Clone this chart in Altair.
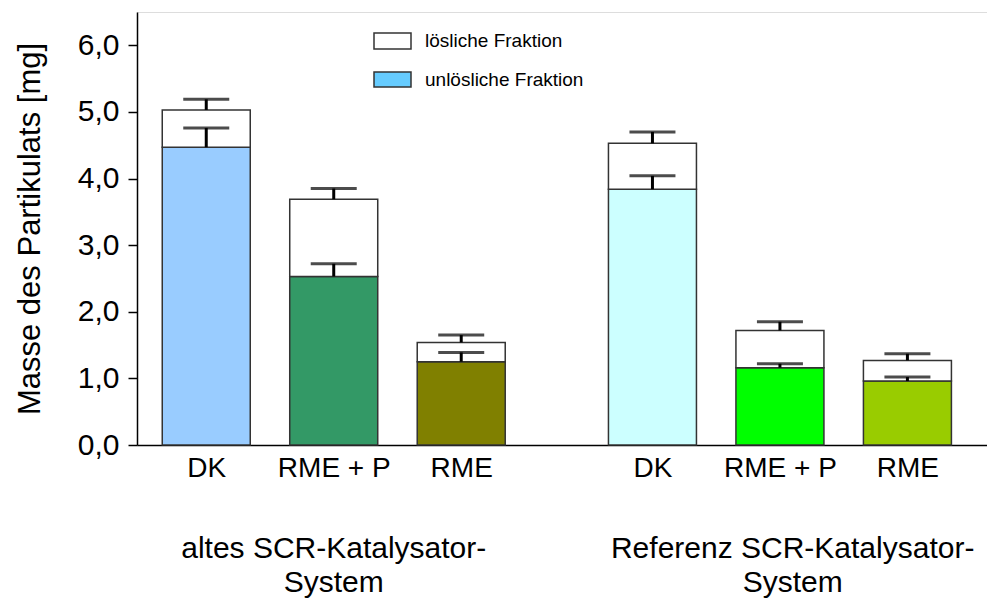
import json
import altair as alt
import pandas as pd

# ---- data ----
categories = ["DK", "RME + P", "RME", "DK", "RME + P", "RME"]
positions = [0, 1, 2, 3.5, 4.5, 5.5]
insoluble = [4.47, 2.53, 1.25, 3.84, 1.16, 0.96]
soluble = [0.56, 1.16, 0.29, 0.69, 0.56, 0.31]
err_insoluble = [0.29, 0.19, 0.14, 0.20, 0.06, 0.06]
err_total = [0.16, 0.16, 0.11, 0.17, 0.13, 0.10]
bar_colors = ["#99CCFF", "#339966", "#808000", "#CCFFFF", "#00FF00", "#99CC00"]

group_labels = [["altes SCR-Katalysator-", "System"], ["Referenz SCR-Katalysator-", "System"]]
group_pos = [1.0, 4.6]

legend_labels = ["lösliche Fraktion", "unlösliche Fraktion"]
legend_colors = ["#FFFFFF", "#66CCFF"]

y_ticks = [0, 1, 2, 3, 4, 5, 6]

FONT = "Liberation Sans"

df = pd.DataFrame({
    "pos": positions,
    "cat": categories,
    "ins": insoluble,
    "sol": soluble,
    "e_ins": err_insoluble,
    "e_tot": err_total,
    "color": bar_colors,
})
df["total"] = df["ins"] + df["sol"]
df["cap_ins"] = df["ins"] + df["e_ins"]
df["cap_tot"] = df["total"] + df["e_tot"]

gdf = pd.DataFrame({"pos": group_pos, "text": group_labels})

xscale = alt.Scale(domain=[-0.504, 6.085], nice=False, zero=False)
yscale = alt.Scale(domain=[0, 6.5], nice=False)

label_expr = (
    json.dumps(categories) + "[indexof(" + json.dumps(positions) + ", datum.value)]"
)

x_axis = alt.Axis(
    values=positions, labelExpr=label_expr, ticks=False, grid=False,
    domainColor="black", domainWidth=1.5, labelFont=FONT, labelFontSize=28,
    labelColor="black", labelPadding=9, labelOverlap=False, labelFlush=False,
    labelBound=False, title=None,
)
y_axis = alt.Axis(
    values=y_ticks, labelExpr="replace(format(datum.value, '.1f'), '.', ',')",
    grid=False, domainColor="black", domainWidth=1.5, tickColor="black",
    tickWidth=1.5, tickSize=9, labelFont=FONT, labelFontSize=30,
    labelColor="black", labelPadding=9, title="Masse des Partikulats [mg]",
    titleFont=FONT, titleFontSize=31, titleFontWeight="normal",
    titleColor="black", titlePadding=31,
)

base = alt.Chart(df)

bars_ins = base.mark_bar(size=88, stroke="#333333", strokeWidth=1.5).encode(
    x=alt.X("pos:Q", scale=xscale, axis=x_axis),
    y=alt.Y("ins:Q", scale=yscale, axis=y_axis),
    y2=alt.Y2(datum=0),
    fill=alt.Fill("color:N", scale=None),
)
bars_sol = base.mark_bar(size=88, stroke="#333333", strokeWidth=1.5, fill="white").encode(
    x="pos:Q",
    y="ins:Q",
    y2="total:Q",
)
err_ins_rule = base.mark_rule(color="black", strokeWidth=3).encode(
    x="pos:Q", y="ins:Q", y2="cap_ins:Q"
)
err_ins_cap = base.mark_tick(color="black", orient="horizontal", size=46, thickness=3).encode(
    x="pos:Q", y="cap_ins:Q"
)
err_tot_rule = base.mark_rule(color="black", strokeWidth=3).encode(
    x="pos:Q", y="total:Q", y2="cap_tot:Q"
)
err_tot_cap = base.mark_tick(color="black", orient="horizontal", size=46, thickness=3).encode(
    x="pos:Q", y="cap_tot:Q"
)

groups = alt.Chart(gdf).mark_text(
    font=FONT, fontSize=30, color="black", baseline="middle", align="center",
    lineHeight=34,
).encode(
    x="pos:Q",
    y=alt.value(537),
    text="text",
)

ldf = pd.DataFrame({"label": legend_labels, "color": legend_colors, "row": [0, 1]})
leg_rect0 = alt.Chart(ldf[ldf.row == 0]).mark_rect(stroke="#333333", strokeWidth=1.5).encode(
    x=alt.value(237), x2=alt.value(274), y=alt.value(21), y2=alt.value(37),
    fill=alt.Fill("color:N", scale=None),
)
leg_rect1 = alt.Chart(ldf[ldf.row == 1]).mark_rect(stroke="#333333", strokeWidth=1.5).encode(
    x=alt.value(237), x2=alt.value(274), y=alt.value(60), y2=alt.value(75),
    fill=alt.Fill("color:N", scale=None),
)
leg_text0 = alt.Chart(ldf[ldf.row == 0]).mark_text(
    font=FONT, fontSize=19, color="black", align="left", baseline="middle"
).encode(x=alt.value(288), y=alt.value(29), text="label:N")
leg_text1 = alt.Chart(ldf[ldf.row == 1]).mark_text(
    font=FONT, fontSize=19, color="black", align="left", baseline="middle"
).encode(x=alt.value(288), y=alt.value(67.5), text="label:N")

chart = alt.layer(
    bars_ins, bars_sol, err_ins_rule, err_ins_cap, err_tot_rule, err_tot_cap,
    groups, leg_rect0, leg_rect1, leg_text0, leg_text1,
).properties(
    width=850, height=433,
    autosize=alt.AutoSizeParams(type="none"),
    padding={"left": 129, "top": 4, "right": 0, "bottom": 155},
).configure_view(stroke=None).configure(background="white")

chart.save("out.html", embed_options={"renderer": "svg", "actions": False})
